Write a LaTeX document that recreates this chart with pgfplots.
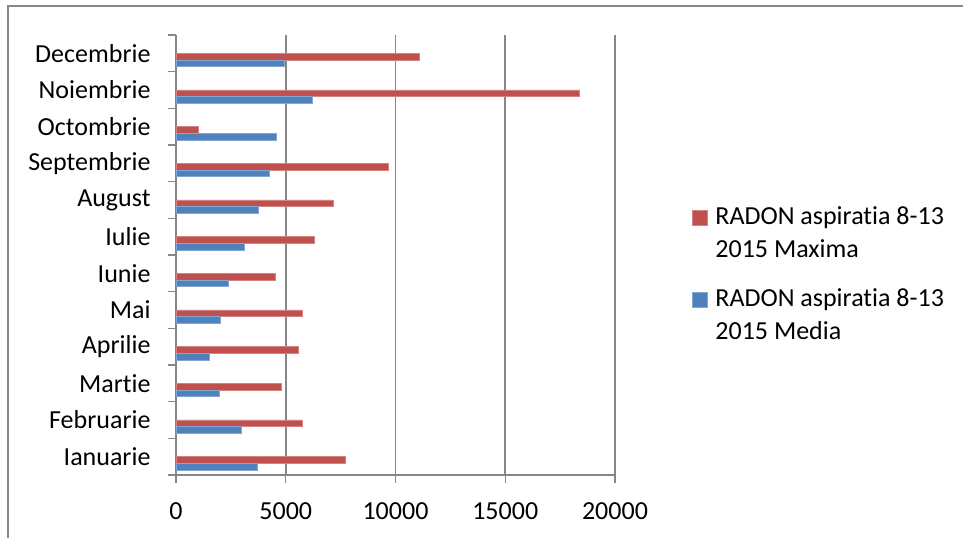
\documentclass[border=0pt]{standalone}
\usepackage{pgfplots}
\pgfplotsset{compat=1.18}
\usepackage{fontspec}
\setmainfont[Ligatures={NoCommon,NoContextual}]{Carlito}
\definecolor{exred}{HTML}{C0504D}
\definecolor{exblue}{HTML}{4F81BD}
\definecolor{exgrid}{HTML}{868686}
\newcommand{\bigfont}{\fontsize{26bp}{33bp}\selectfont}
\begin{document}
\begin{tikzpicture}
\begin{axis}[
  at={(0,0)}, anchor=south west,
  scale only axis, width=439bp, height=440bp,
  xbar, bar width=6.7bp,
  xmin=0, xmax=20000, ymin=-0.5, ymax=11.5,
  scaled x ticks=false,
  axis x line*=bottom, axis y line*=left,
  axis line style={exgrid, line width=1.5bp},
  xmajorgrids,
  every axis grid/.style={exgrid, line width=1.6bp},
  xtick={0,5000,10000,15000,20000},
  x tick style={exgrid, line width=1.5bp},
  y tick style={exgrid, line width=1.5bp},
  tick align=outside, major tick length=8bp,
  ytick={-0.5,0.5,...,11.5}, yticklabels={},
  extra y ticks={0,1,2,3,4,5,6,7,8,9,10,11},
  extra y tick labels={Ianuarie,Februarie,Martie,Aprilie,Mai,Iunie,Iulie,August,Septembrie,Octombrie,Noiembrie,Decembrie},
  extra y tick style={tick style={draw=none}, yticklabel style={xshift=-14bp}},
  xticklabel style={yshift=-16bp},
  ticklabel style={font=\bigfont},
  /pgf/number format/assume math mode=true,
  /pgf/number format/.cd, 1000 sep={},
  /pgfplots/.cd,
  legend cell align=left,
  legend style={at={(1.168,0.62)}, anchor=north west, draw=none, fill=none,
    font=\bigfont, row sep=26bp, column sep=6bp, cells={align=left}},
  legend image code/.code={\fill[#1] (0bp,7.5bp) rectangle (15bp,22.5bp);},
]
\addplot[fill=exred, draw=exred!70!white, line width=0.5bp, bar shift=-3.3bp] coordinates {
(7730,0) (5740,1) (4780,2) (5560,3) (5770,4) (4540,5) (6280,6) (7160,7) (9670,8) (1020,9) (18380,10) (11080,11)};
\addlegendentry{RADON aspiratia 8-13\\2015 Maxima}
\addplot[fill=exblue, draw=exblue!70!white, line width=0.5bp, bar shift=-10bp] coordinates {
(3720,0) (2960,1) (1970,2) (1530,3) (2030,4) (2400,5) (3100,6) (3750,7) (4240,8) (4550,9) (6220,10) (4920,11)};
\addlegendentry{RADON aspiratia 8-13\\2015 Media}
\end{axis}
\pgfresetboundingbox
\useasboundingbox (-176bp,-63bp) rectangle (787bp,475bp);
\draw[exgrid, line width=1.5bp] (-168bp,-80bp) -- (-168bp,469bp) -- (800bp,469bp);
\end{tikzpicture}
\end{document}
